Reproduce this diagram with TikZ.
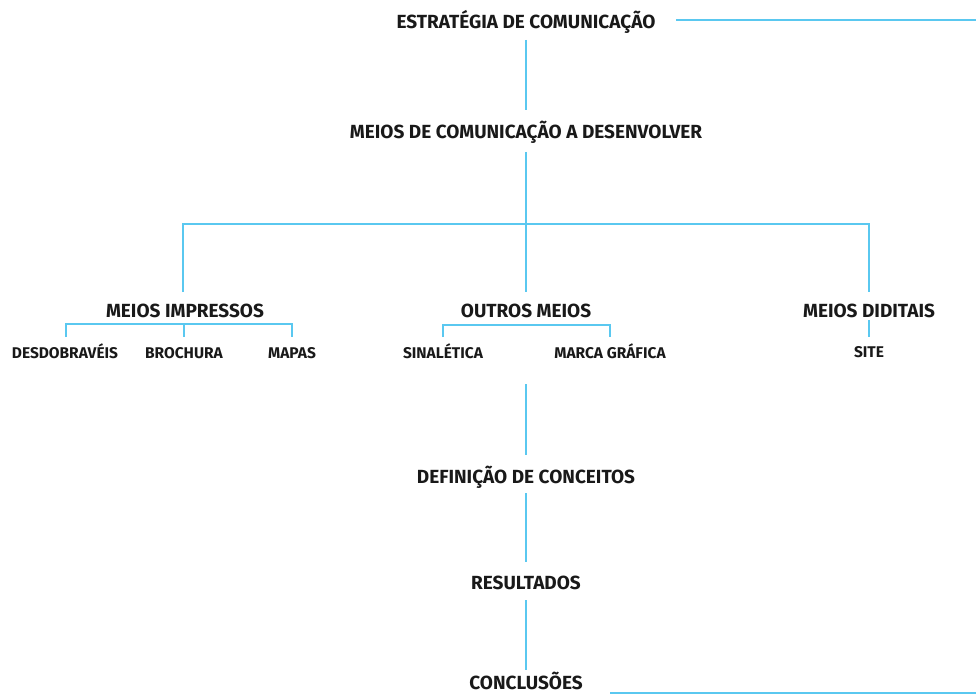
\documentclass[tikz,border=0pt]{standalone}
\usepackage{fontspec}
\setmainfont{Fira Sans}[UprightFont={* Bold}]
\definecolor{lineblue}{RGB}{90,200,240}
\definecolor{txt}{RGB}{25,25,25}
\begin{document}
\begin{tikzpicture}[x=1pt,y=-1pt,
  big/.style={font=\fontsize{19}{22}\selectfont, text=txt, inner sep=0pt, anchor=base},
  small/.style={font=\fontsize{15.5}{18}\selectfont, text=txt, inner sep=0pt, anchor=base},
  conn/.style={draw=lineblue, line width=1.6pt}]
\useasboundingbox (0,0) rectangle (976,695);
% main nodes
\node[big] (estr) at (526,29) {ESTRATÉGIA DE COMUNICAÇÃO};
\node[big] (meios) at (526,139) {MEIOS DE COMUNICAÇÃO A DESENVOLVER};
\node[big] (imp) at (185,317) {MEIOS IMPRESSOS};
\node[big] (out) at (526,317) {OUTROS MEIOS};
\node[big] (dig) at (869,317) {MEIOS DIDITAIS};
\node[small] (desd) at (65,358) {DESDOBRAVÉIS};
\node[small] (broc) at (184,358) {BROCHURA};
\node[small] (mapa) at (292,358) {MAPAS};
\node[small] (sina) at (443,358) {SINALÉTICA};
\node[small] (marc) at (610,358) {MARCA GRÁFICA};
\node[small] (site) at (869,357) {SITE};
\node[big] (def) at (526,483) {DEFINIÇÃO DE CONCEITOS};
\node[big] (res) at (526,589) {RESULTADOS};
\node[big] (conc) at (526,689) {CONCLUSÕES};
% coordinates
\coordinate (er) at (976,20);
\coordinate (cr) at (976,693);
\coordinate (bL) at (183,224);
\coordinate (bR) at (869,224);
% connectors
\draw[conn] (676,20) -- (er);
\draw[conn] (526,40) -- (526,110);
\draw[conn] (526,152) -- (526,292);
\draw[conn] (183,292) -- (bL) -- (bR) -- (869,292);
% impressos bracket
\draw[conn] (66,337) -- (66,324) -- (292,324) -- (292,337);
\draw[conn] (184,324) -- (184,337);
% outros bracket
\draw[conn] (443,337) -- (443,325) -- (610,325) -- (610,337);
% digitais
\draw[conn] (869,320) -- (869,337);
% lower chain
\draw[conn] (526,384) -- (526,455);
\draw[conn] (526,493) -- (526,562);
\draw[conn] (526,600) -- (526,670);
\draw[conn] (610,693) -- (cr);
\end{tikzpicture}
\end{document}
